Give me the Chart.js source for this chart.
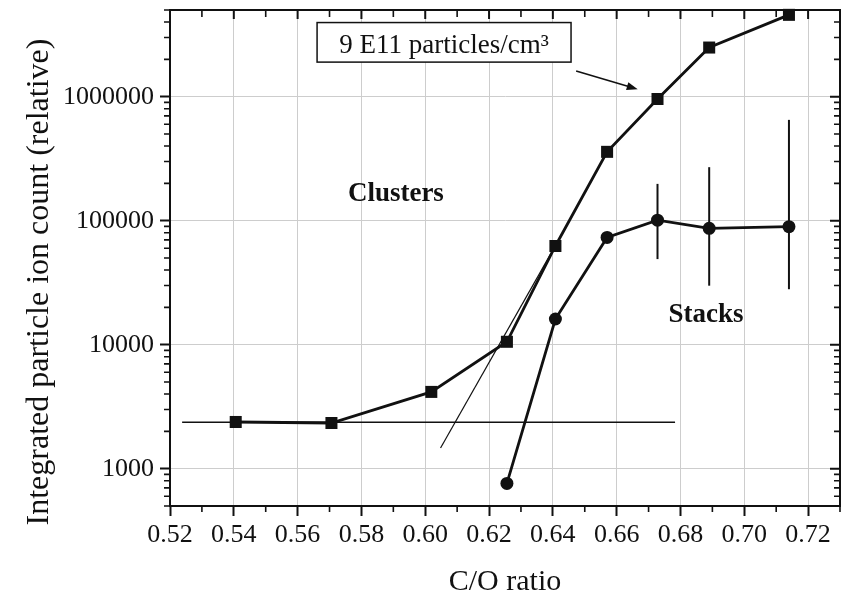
<!DOCTYPE html>
<html>
<head>
<meta charset="utf-8">
<script src="https://cdn.jsdelivr.net/npm/chart.js@4.4.1/dist/chart.umd.min.js"></script>
<style>
  html, body { margin: 0; padding: 0; background: #fff; }
  #wrap { width: 846px; height: 596px; }
</style>
</head>
<body>
<div id="wrap"><canvas id="ions" width="846" height="596"></canvas></div>
<script>
// cluster branch (squares)
const clusterRatio = [0.5406, 0.5706, 0.6019, 0.6256, 0.6408, 0.657, 0.6728, 0.689, 0.714]
const clusterCounts = [2380, 2335, 4160, 10550, 62500, 359000, 958000, 2490000, 4570000]

// stack branch (circles) with error bars on the last three points
const stackRatio = [0.6256, 0.6408, 0.657, 0.6728, 0.689, 0.714]
const stackCounts = [760, 16100, 73300, 101000, 86700, 89500]
const errRatio = [0.6728, 0.689, 0.714]
const errLow = [49000, 29900, 28000]
const errHigh = [198000, 270000, 650000]

// guide lines: flat baseline and onset slope
const baseRatio = [0.5238, 0.6783]
const baseCounts = [2370, 2370]
const onsetRatio = [0.6048, 0.6395]
const onsetCounts = [1470, 55000]

const xTicks = [0.52, 0.54, 0.56, 0.58, 0.60, 0.62, 0.64, 0.66, 0.68, 0.70, 0.72]
const xTickLabels = ['0.52', '0.54', '0.56', '0.58', '0.60', '0.62', '0.64', '0.66', '0.68', '0.70', '0.72']
const yTicks = [1000, 10000, 100000, 1000000]
const yTickLabels = ['1000', '10000', '100000', '1000000']

const ink = '#111'
const serif = 'Liberation Serif'

const pts = (xs, ys) => xs.map((x, i) => ({ x: x, y: ys[i] }))

const errorBars = errRatio.map((x, i) => ({
    data: [{ x: x, y: errLow[i] }, { x: x, y: errHigh[i] }],
    showLine: true,
    borderColor: ink,
    borderWidth: 2,
    pointRadius: 0
}))

// no extra room for half-labels at the scale ends
const noPad = s => {
    s.paddingTop = 0
    s.paddingBottom = 0
    s.paddingLeft = 0
    s.paddingRight = 0
}

// frame, minor ticks, labels and the axis titles
const frame = {
    id: 'frame',
    afterDatasetsDraw(chart) {
        const { ctx, chartArea: a, scales: { x, y } } = chart
        ctx.save()
        ctx.strokeStyle = ink
        ctx.fillStyle = ink

        ctx.lineWidth = 2
        ctx.beginPath()
        ctx.moveTo(a.left, a.top)
        ctx.lineTo(a.right, a.top)
        ctx.lineTo(a.right, a.bottom)
        ctx.stroke()

        ctx.lineWidth = 1.6
        ctx.beginPath()
        for (let d = 100; d < 1e7; d *= 10) {
            for (let k = 2; k <= 9; k++) {
                const v = d * k
                if (v < y.min || v > y.max) continue
                const py = y.getPixelForValue(v)
                ctx.moveTo(a.left - 6, py); ctx.lineTo(a.left, py)
                ctx.moveTo(a.right - 6, py); ctx.lineTo(a.right, py)
            }
        }
        for (let v = 0.53; v < 0.735; v += 0.02) {
            const px = x.getPixelForValue(v)
            ctx.moveTo(px, a.bottom); ctx.lineTo(px, a.bottom + 6)
            ctx.moveTo(px, a.top); ctx.lineTo(px, a.top + 7)
        }
        ctx.stroke()

        ctx.lineWidth = 2
        ctx.beginPath()
        yTicks.forEach(v => {
            const py = y.getPixelForValue(v)
            ctx.moveTo(a.right - 10, py); ctx.lineTo(a.right, py)
        })
        xTicks.forEach(v => {
            const px = x.getPixelForValue(v)
            ctx.moveTo(px, a.top); ctx.lineTo(px, a.top + 9)
        })
        ctx.stroke()

        // concentration label box and arrow
        const bx0 = x.getPixelForValue(0.5661), bx1 = x.getPixelForValue(0.6457)
        const by0 = y.getPixelForValue(3.96e6), by1 = y.getPixelForValue(1.9e6)
        ctx.fillStyle = '#fff'
        ctx.fillRect(bx0, by0, bx1 - bx0, by1 - by0)
        ctx.lineWidth = 1.5
        ctx.strokeRect(bx0, by0, bx1 - bx0, by1 - by0)
        ctx.fillStyle = ink
        ctx.font = '27px "' + serif + '"'
        ctx.textAlign = 'center'
        ctx.textBaseline = 'alphabetic'
        ctx.fillText('9 E11 particles/cm³', (bx0 + bx1) / 2, y.getPixelForValue(2.24e6))

        const ax0 = x.getPixelForValue(0.6473), ay0 = y.getPixelForValue(1.613e6)
        const ax1 = x.getPixelForValue(0.6666), ay1 = y.getPixelForValue(1.148e6)
        const ang = Math.atan2(ay1 - ay0, ax1 - ax0)
        ctx.lineWidth = 1.6
        ctx.beginPath()
        ctx.moveTo(ax0, ay0)
        ctx.lineTo(ax1 - 6 * Math.cos(ang), ay1 - 6 * Math.sin(ang))
        ctx.stroke()
        ctx.beginPath()
        ctx.moveTo(ax1, ay1)
        ctx.lineTo(ax1 - 11 * Math.cos(ang) + 4 * Math.sin(ang), ay1 - 11 * Math.sin(ang) - 4 * Math.cos(ang))
        ctx.lineTo(ax1 - 11 * Math.cos(ang) - 4 * Math.sin(ang), ay1 - 11 * Math.sin(ang) + 4 * Math.cos(ang))
        ctx.closePath()
        ctx.fill()

        ctx.font = 'bold 27px "' + serif + '"'
        ctx.fillText('Clusters', x.getPixelForValue(0.5908), y.getPixelForValue(145000))
        ctx.fillText('Stacks', x.getPixelForValue(0.688), y.getPixelForValue(15100))

        ctx.font = '30px "' + serif + '"'
        ctx.fillText('C/O ratio', (a.left + a.right) / 2, 590)

        ctx.translate(48, 282)
        ctx.rotate(-Math.PI / 2)
        ctx.font = '32px "' + serif + '"'
        ctx.fillText('Integrated particle ion count (relative)', 0, 0)
        ctx.restore()
    }
}

const chart = new Chart(document.getElementById('ions').getContext('2d'), {
    type: 'scatter',
    data: {
        datasets: [{
            data: pts(clusterRatio, clusterCounts),
            showLine: true,
            borderColor: ink,
            borderWidth: 2.8,
            pointStyle: 'rect',
            pointRadius: 8.5,
            pointBackgroundColor: ink,
            pointBorderWidth: 0,
            clip: false
        }, {
            data: pts(stackRatio, stackCounts),
            showLine: true,
            borderColor: ink,
            borderWidth: 2.8,
            pointStyle: 'circle',
            pointRadius: 6.5,
            pointBackgroundColor: ink,
            pointBorderWidth: 0
        },
        ...errorBars,
        {
            data: pts(baseRatio, baseCounts),
            showLine: true,
            borderColor: ink,
            borderWidth: 1.5,
            pointRadius: 0
        }, {
            data: pts(onsetRatio, onsetCounts),
            showLine: true,
            borderColor: ink,
            borderWidth: 1.2,
            pointRadius: 0
        }]
    },
    options: {
        responsive: false,
        animation: false,
        layout: { autoPadding: false, padding: { top: 10, right: 6, left: 0, bottom: 0 } },
        plugins: {
            legend: { display: false },
            tooltip: { enabled: false }
        },
        scales: {
            x: {
                type: 'linear',
                min: 0.52,
                max: 0.73,
                afterBuildTicks: s => { s.ticks = xTicks.map(v => ({ value: v })) },
                afterFit: s => { s.height = 90; noPad(s) },
                ticks: {
                    callback: (v, i) => xTickLabels[i],
                    font: { family: serif, size: 26 },
                    color: ink,
                    padding: 4,
                    maxRotation: 0,
                    autoSkip: false
                },
                grid: { color: '#cdcdcd', lineWidth: 1, tickColor: ink, tickLength: 10, tickWidth: 2 },
                border: { color: ink, width: 2 }
            },
            y: {
                type: 'logarithmic',
                min: 500,
                max: 5000000,
                afterBuildTicks: s => { s.ticks = yTicks.map(v => ({ value: v })) },
                afterFit: s => { s.width = 170; noPad(s) },
                ticks: {
                    callback: (v, i) => yTickLabels[i],
                    font: { family: serif, size: 26 },
                    color: ink,
                    padding: 6,
                    autoSkip: false
                },
                grid: { color: '#cdcdcd', lineWidth: 1, tickColor: ink, tickLength: 10, tickWidth: 2 },
                border: { color: ink, width: 2 }
            }
        }
    },
    plugins: [frame]
})
</script>
</body>
</html>
